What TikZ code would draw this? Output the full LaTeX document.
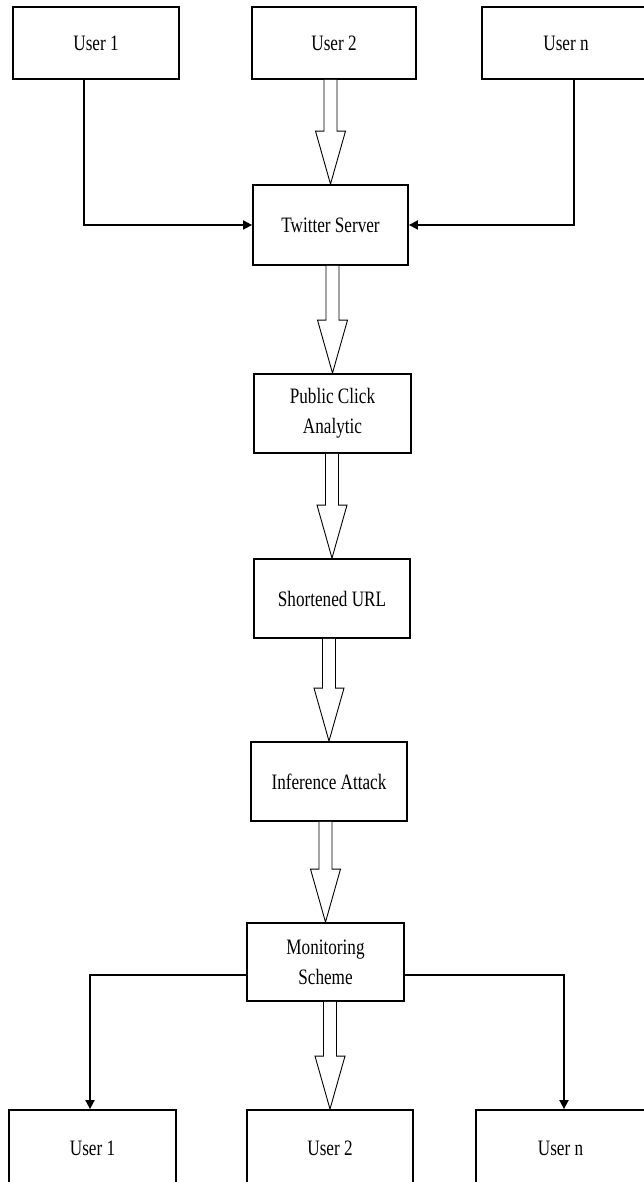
\documentclass[tikz,border=0pt]{standalone}
\usepackage{fontspec}
\setmainfont{Liberation Serif}[FakeStretch=0.78]
\usetikzlibrary{arrows.meta,calc}
\tikzset{
  box/.style={draw=black, line width=1.8pt, fill=white, inner sep=0pt, align=center,
    font=\fontsize{22}{30}\selectfont},
  conn/.style={draw=black, line width=1.8pt, -{Triangle[length=9pt,width=9pt]}},
  hollow/.style={draw=black, line width=0.9pt, fill=white, line join=miter},
}
\newcommand\fatarrow[2]{%
  \draw[hollow] let \p1=(#1.south), \p2=(#2.north) in
   (\x2-6.5pt,\y1) -- (\x2-6.5pt,\y2+53pt) -- (\x2-15pt,\y2+53pt) -- (\x2,\y2)
   -- (\x2+15pt,\y2+53pt) -- (\x2+6.5pt,\y2+53pt) -- (\x2+6.5pt,\y1);}
\begin{document}
\begin{tikzpicture}[x=1pt,y=1pt]
\useasboundingbox[fill=white] (0,0) rectangle (644,1182);
% top users
\node[box, minimum width=166pt, minimum height=72pt] (u1t) at (96,1139) {User 1};
\node[box, minimum width=164pt, minimum height=72pt] (u2t) at (334,1139) {User 2};
\node[box, minimum width=168pt, minimum height=72pt] (unt) at (566,1139) {User n};
% chain
\node[box, minimum width=155pt, minimum height=80pt] (ts) at (330.5,957) {Twitter Server};
\node[box, minimum width=157pt, minimum height=79pt] (pca) at (332.5,768.5) {Public Click\\Analytic};
\node[box, minimum width=156pt, minimum height=79pt] (surl) at (332,583.5) {Shortened URL};
\node[box, minimum width=156pt, minimum height=79pt] (ia) at (329,400.5) {Inference Attack};
\node[box, minimum width=157pt, minimum height=78pt] (ms) at (325.5,220) {Monitoring\\Scheme};
% bottom users
\node[box, minimum width=167pt, minimum height=76pt] (u1b) at (92.5,34) {User 1};
\node[box, minimum width=166pt, minimum height=76pt] (u2b) at (330,34) {User 2};
\node[box, minimum width=169pt, minimum height=76pt] (unb) at (560.5,34) {User n};
% hollow arrows
\fatarrow{u2t}{ts}
\fatarrow{ts}{pca}
\fatarrow{pca}{surl}
\fatarrow{surl}{ia}
\fatarrow{ia}{ms}
\fatarrow{ms}{u2b}
% elbow connectors
\draw[conn] ([xshift=-12pt]u1t.south) |- (ts.west);
\draw[conn] ([xshift=8pt]unt.south) |- (ts.east);
\draw[conn] ([yshift=-13pt]ms.west) -| ([xshift=-2.5pt]u1b.north);
\draw[conn] ([yshift=-13pt]ms.east) -| ([xshift=3.5pt]unb.north);
\end{tikzpicture}
\end{document}
